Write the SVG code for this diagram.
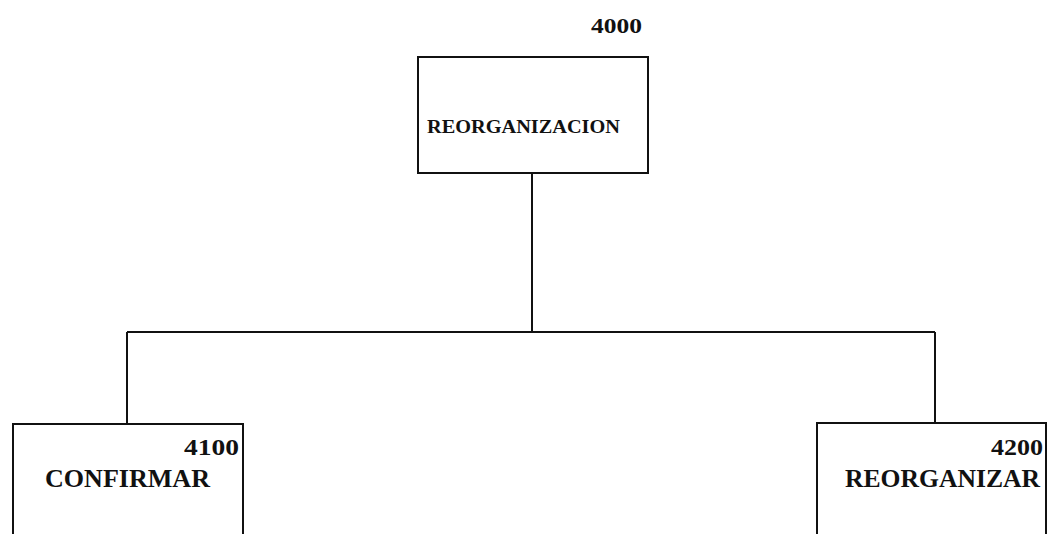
<svg xmlns="http://www.w3.org/2000/svg" width="1050" height="534" viewBox="0 0 1050 534">
<style>
.box{fill:#fff;stroke:#111;stroke-width:2}
.ln{fill:none;stroke:#111;stroke-width:2}
text{font-family:"Liberation Serif","Times New Roman",serif;font-weight:bold;fill:#111}
.num{font-size:24px}
.big{font-size:26px}
</style>
<rect width="1050" height="534" fill="#fff"/>
<g id="connectors">
<path class="ln" d="M532 173 V332 M127 332 H935 M127 332 V424 M935 332 V423"/>
</g>
<g id="n4000">
<rect class="box" x="418" y="57" width="230" height="116"/>
<text x="642" y="33" font-size="21" text-anchor="end" textLength="51" lengthAdjust="spacingAndGlyphs">4000</text>
<text x="427" y="133" font-size="19" textLength="193" lengthAdjust="spacingAndGlyphs">REORGANIZACION</text>
</g>
<g id="n4100">
<rect class="box" x="13" y="424" width="230" height="120"/>
<text class="num" x="239" y="455" text-anchor="end" textLength="55" lengthAdjust="spacingAndGlyphs">4100</text>
<text class="big" x="45" y="487" textLength="165" lengthAdjust="spacingAndGlyphs">CONFIRMAR</text>
</g>
<g id="n4200">
<rect class="box" x="817" y="423" width="229" height="120"/>
<text class="num" x="1043" y="455" text-anchor="end" textLength="52" lengthAdjust="spacingAndGlyphs">4200</text>
<text class="big" x="845" y="487" textLength="195" lengthAdjust="spacingAndGlyphs">REORGANIZAR</text>
</g>
</svg>
